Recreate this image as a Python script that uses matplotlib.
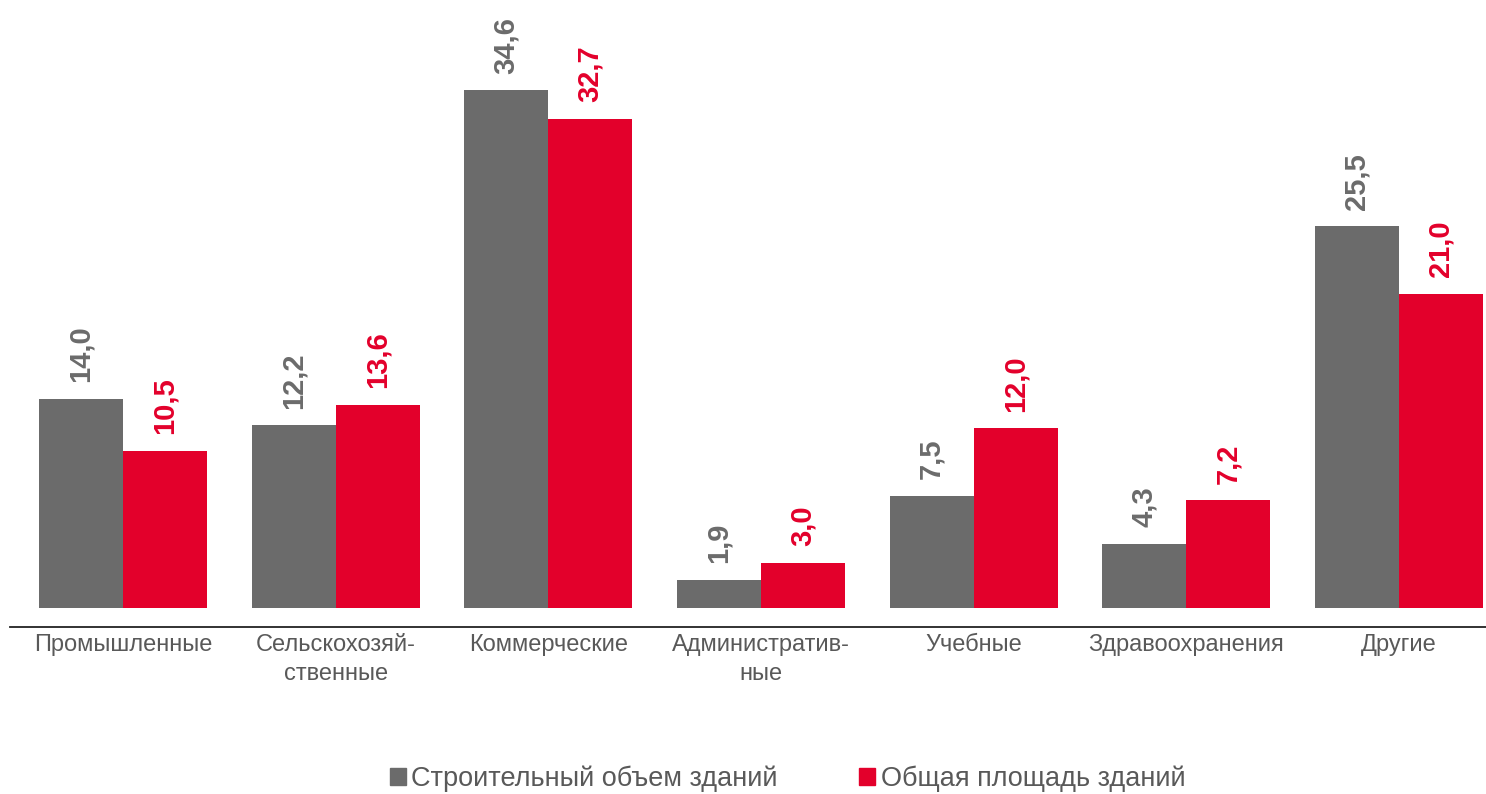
import numpy as np
import matplotlib.pyplot as plt
from matplotlib.patches import Patch

plt.rcParams['font.family'] = ['Liberation Sans', 'DejaVu Sans']

categories = ['Промышленные', 'Сельскохозяй-\nственные', 'Коммерческие',
              'Административ-\nные', 'Учебные', 'Здравоохранения', 'Другие']
volume = [14.0, 12.2, 34.6, 1.9, 7.5, 4.3, 25.5]
area = [10.5, 13.6, 32.7, 3.0, 12.0, 7.2, 21.0]
series_names = ['Строительный объем зданий', 'Общая площадь зданий']

gray = '#6b6b6b'
red = '#e3002b'
text_gray = '#595959'

fig = plt.figure(figsize=(14.86, 7.94), dpi=100)
ax = fig.add_axes([10 / 1486, 167 / 794, 1 - 10 / 1486, (627 - 20) / 794])

x = np.arange(len(categories))
w = 0.395
b1 = ax.bar(x - w / 2, volume, w, color=gray)
b2 = ax.bar(x + w / 2, area, w, color=red)

for bars, vals, c in [(b1, volume, gray), (b2, area, red)]:
    for bar, v in zip(bars, vals):
        ax.annotate(f'{v:.1f}'.replace('.', ','),
                    (bar.get_x() + bar.get_width() / 2, v),
                    xytext=(0, 12), textcoords='offset points',
                    rotation=90, ha='center', va='bottom',
                    fontsize=21, fontweight='bold', color=c)

ax.set_xlim(-0.531, 6.41)
ax.set_ylim(-1.27, 39.3)
ax.set_xticks(x)
ax.set_xticklabels(categories, fontsize=17, color=text_gray, linespacing=1.4)
ax.tick_params(axis='x', length=0, pad=5)
ax.set_yticks([])
for s in ['top', 'right', 'left']:
    ax.spines[s].set_visible(False)
ax.spines['bottom'].set_color('#222222')
ax.spines['bottom'].set_linewidth(1.3)

handles = [Patch(color=gray), Patch(color=red)]
leg = fig.legend(handles, series_names, loc='center', bbox_to_anchor=(0.53, 0.019),
                 ncol=2, frameon=False, fontsize=19.5, handlelength=0.6, handleheight=0.6,
                 handletextpad=0.2, columnspacing=3.0, borderpad=0)
for t in leg.get_texts():
    t.set_color(text_gray)

fig.savefig('out.png', dpi=100)
